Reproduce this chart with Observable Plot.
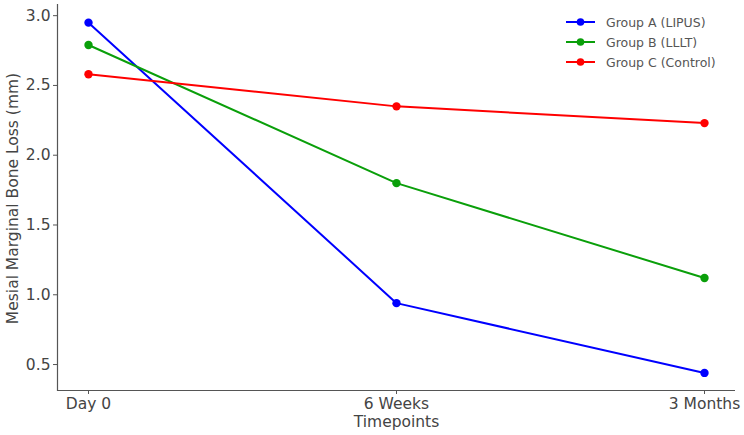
<!DOCTYPE html>
<html>
<head>
<meta charset="utf-8">
<script src="https://cdn.jsdelivr.net/npm/d3@7"></script>
<script src="https://cdn.jsdelivr.net/npm/@observablehq/plot@0.6"></script>
<style>
  html, body { margin: 0; padding: 0; background: #fff; }
  #wrap { position: relative; width: 744px; height: 435px; font-family: "DejaVu Sans", sans-serif; }
  #legend { position: absolute; left: 566px; top: 12px; font-size: 12.5px; color: #555; }
  #legend .row { display: flex; align-items: center; height: 20px; }
  #legend svg { margin-right: 11px; }
</style>
</head>
<body>
<div id="wrap"></div>
<script>
const timepoints = ["Day 0", "6 Weeks", "3 Months"];
const groups = ["Group A (LIPUS)", "Group B (LLLT)", "Group C (Control)"];
const colors = ["#0000ff", "#0a9f0a", "#ff0000"];
const groupA = [2.95, 0.94, 0.44];
const groupB = [2.79, 1.80, 1.12];
const groupC = [2.58, 2.35, 2.23];
const yTicks = [0.5, 1.0, 1.5, 2.0, 2.5, 3.0];
const yDomain = [0.314, 3.08];

const series = [groupA, groupB, groupC];
const data = [];
groups.forEach((g, gi) => {
  timepoints.forEach((t, ti) => data.push({group: g, time: t, value: series[gi][ti]}));
});

const chart = Plot.plot({
  width: 744,
  height: 435,
  marginLeft: 57,
  marginRight: 9,
  marginTop: 4,
  marginBottom: 45,
  style: {fontFamily: "DejaVu Sans, sans-serif", fontSize: "15.5px", color: "#444", background: "#fff"},
  x: {type: "point", domain: timepoints, padding: 0.1},
  y: {domain: yDomain},
  color: {domain: groups, range: colors},
  marks: [
    Plot.axisY(yTicks, {tickSize: 4, tickPadding: 3, tickFormat: d => d.toFixed(1), stroke: "#555", label: null, fontSize: 15.5}),
    Plot.axisX({tickSize: 4, tickPadding: 3, stroke: "#555", label: null, fontSize: 15.5}),
    Plot.ruleY([yDomain[0]], {stroke: "#555", strokeWidth: 1.2}),
    Plot.frame({anchor: "left", stroke: "#555", strokeWidth: 1.2}),
    Plot.text(["Timepoints"], {frameAnchor: "bottom", dy: 25, lineAnchor: "top", textAnchor: "middle", fontSize: 15.5, fill: "#444"}),
    Plot.text(["Mesial Marginal Bone Loss (mm)"], {frameAnchor: "left", dx: -44, dy: 1, rotate: -90, textAnchor: "middle", lineAnchor: "middle", fontSize: 15.5, fill: "#444"}),
    Plot.line(data, {x: "time", y: "value", z: "group", stroke: "group", strokeWidth: 2}),
    Plot.dot(data, {x: "time", y: "value", fill: "group", r: 4.2})
  ]
});

const wrap = document.getElementById("wrap");
wrap.appendChild(chart);

const legend = document.createElement("div");
legend.id = "legend";
groups.forEach((g, i) => {
  const row = document.createElement("div");
  row.className = "row";
  row.innerHTML = `<svg width="29" height="10"><line x1="0" y1="5" x2="29" y2="5" stroke="${colors[i]}" stroke-width="2"/><circle cx="14.5" cy="5" r="3.8" fill="${colors[i]}"/></svg><span>${g}</span>`;
  legend.appendChild(row);
});
wrap.appendChild(legend);
</script>
</body>
</html>
